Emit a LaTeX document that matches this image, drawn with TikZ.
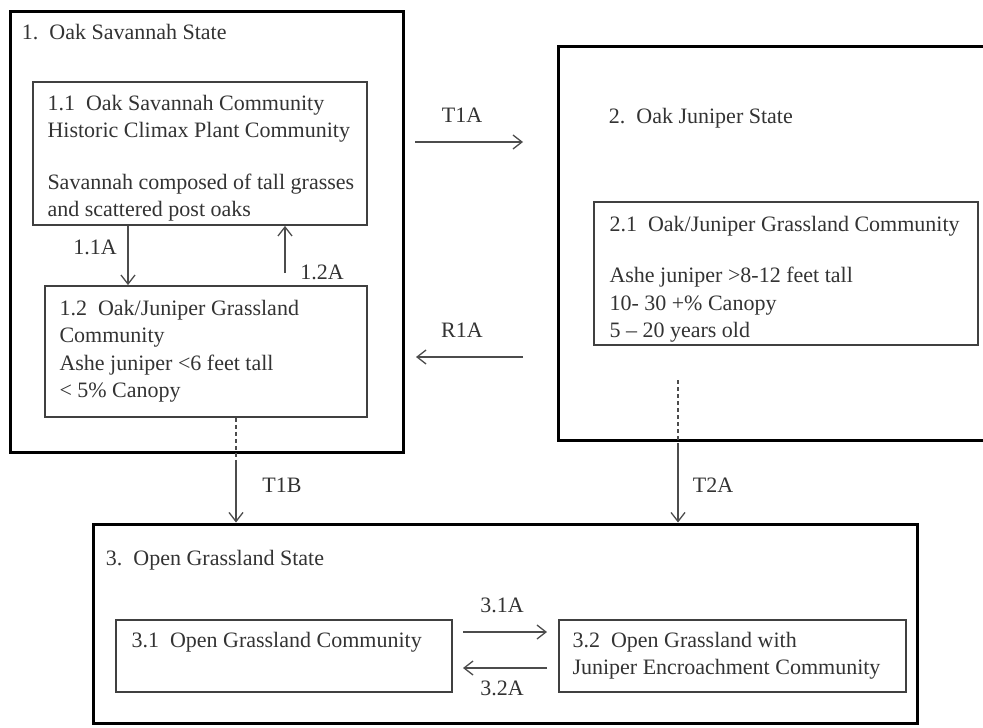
\documentclass[tikz,border=0pt]{standalone}
\usepackage{fontspec}
\setmainfont{Liberation Serif}
\usetikzlibrary{arrows.meta,fit}
\definecolor{ink}{gray}{0.2}

\begin{document}
\begin{tikzpicture}[x=0.5pt,y=-0.5pt,
    statebox/.style={draw=black,line width=1.5pt,inner sep=0pt},
    commbox/.style={draw=black!75,line width=0.9pt,inner sep=0pt},
    txt/.style={anchor=north west,inner sep=0pt,align=left,text=ink,font=\fontsize{11}{13.6}\selectfont},
    lbl/.style={inner sep=0pt,text=ink,font=\fontsize{11}{13.6}\selectfont},
    arr/.style={draw=black!70,line width=0.65pt,-{Straight Barb[length=4.5pt,width=7pt]}},
    dashline/.style={draw=black!70,line width=0.65pt,dash pattern=on 2pt off 1.5pt}]
  \clip (0,0) rectangle (983,727);
  % states
  \node[statebox,fit={(10,12) (403,452)}] (s1) {};
  \node[statebox,fit={(558,47) (995,440)}] (s2) {};
  \node[statebox,fit={(93,524) (917,723)}] (s3) {};
  % communities
  \node[commbox,fit={(33,82) (367,225)}] (b11) {};
  \node[commbox,fit={(45,286) (367,417)}] (b12) {};
  \node[commbox,fit={(594,202) (978,345)}] (b21) {};
  \node[commbox,fit={(116,620) (452,692)}] (b31) {};
  \node[commbox,fit={(559,620) (906,692)}] (b32) {};
  % texts
  \node[txt] (s1t) at ([shift={(13,13)}]s1.north west) {1.\enspace Oak Savannah State};
  \node[txt] (b11t) at ([shift={(15,14)}]b11.north west) {1.1\enspace Oak Savannah Community\\
    Historic Climax Plant Community\\[12pt]
    Savannah composed of tall grasses\\
    and scattered post oaks};
  \node[txt] (b12t) at ([shift={(15,15)}]b12.north west) {1.2\enspace Oak/Juniper Grassland\\
    Community\\
    Ashe juniper <6 feet tall\\
    < 5\% Canopy};
  \node[txt] (s2t) at ([shift={(52,62)}]s2.north west) {2.\enspace Oak Juniper State};
  \node[txt] (b21t) at ([shift={(16,15)}]b21.north west) {2.1\enspace Oak/Juniper Grassland Community\\[12pt]
    Ashe juniper >8-12 feet tall\\
    10- 30 +\% Canopy\\
    5 -- 20 years old};
  \node[txt] (s3t) at ([shift={(14,27)}]s3.north west) {3.\enspace Open Grassland State};
  \node[txt] (b31t) at ([shift={(16,13)}]b31.north west) {3.1\enspace Open Grassland Community};
  \node[txt] (b32t) at ([shift={(14,13)}]b32.north west) {3.2\enspace Open Grassland with\\
    Juniper Encroachment Community};
  % transitions
  \coordinate (A11) at (128,250);
  \coordinate (A12) at (285,273);
  \coordinate (T1As) at (415,142);
  \coordinate (T1Ae) at (523,142);
  \coordinate (R1As) at (523,357);
  \coordinate (R1Ae) at (416,357);
  \coordinate (T1Bm) at (236,460);
  \coordinate (T2Atop) at (678,380);
  \coordinate (T2Am) at (678,445);
  \coordinate (A31s) at (463,632);
  \coordinate (A31e) at (547,632);
  \coordinate (A32s) at (547,668);
  \coordinate (A32e) at (463,668);
  \draw[arr] (b11.south -| A11) -- (b12.north -| A11);
  \draw[arr] (A12) -- (A12 |- b11.south);
  \draw[arr] (T1As) -- (T1Ae);
  \draw[arr] (R1As) -- (R1Ae);
  \draw[dashline] (b12.south -| T1Bm) -- (T1Bm);
  \draw[arr] (T1Bm) -- (T1Bm |- s3.north);
  \draw[dashline] (T2Atop) -- (T2Am);
  \draw[arr] (T2Am) -- (T2Am |- s3.north);
  \draw[arr] (A31s) -- (A31e);
  \draw[arr] (A32s) -- (A32e);
  % labels
  \node[lbl] (l11) at (95,247) {1.1A};
  \node[lbl] (l12) at (322,272) {1.2A};
  \node[lbl] (lT1A) at (462,115) {T1A};
  \node[lbl] (lR1A) at (462,330) {R1A};
  \node[lbl] (lT1B) at (282,485) {T1B};
  \node[lbl] (lT2A) at (713,485) {T2A};
  \node[lbl] (l31) at (502,605) {3.1A};
  \node[lbl] (l32) at (502,688) {3.2A};
\end{tikzpicture}
\end{document}
